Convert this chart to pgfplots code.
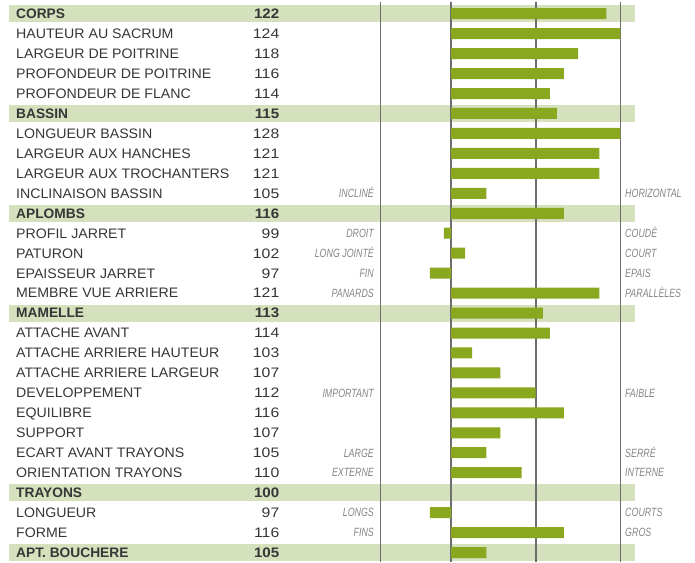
\documentclass[border=0pt]{standalone}
\usepackage{pgfplots}
\pgfplotsset{compat=1.18}
\usepackage{pgfplotstable}
\usepackage{graphicx}
\usepackage{fontspec}
\setmainfont{Liberation Sans}
\definecolor{band}{HTML}{D5E0BD}
\definecolor{barc}{HTML}{8AA720}
\definecolor{txt}{HTML}{363636}
\definecolor{desc}{HTML}{858585}
\definecolor{vline}{HTML}{6E6E6E}

% row, value
\pgfplotstableread{
row val
0 122
1 124
2 118
3 116
4 114
5 115
6 128
7 121
8 121
9 105
10 116
11 99
12 102
13 97
14 121
15 113
16 114
17 103
18 107
19 112
20 116
21 107
22 105
23 110
24 100
25 97
26 116
27 105
}\data

\newcommand{\lab}[3]{% row, label, value
  \node[anchor=base west, font=\fontsize{13.8}{15}\selectfont, text=txt, inner sep=0pt, yshift=-4.9bp] at (axis cs:-61.615,#1) {\scalebox{1.03}[1]{#2}};
  \node[anchor=base east, font=\fontsize{13.8}{15}\selectfont, text=txt, inner sep=0pt, yshift=-4.9bp] at (axis cs:-24.29,#1) {\scalebox{1.15}[1]{#3}};}
\newcommand{\hlab}[3]{% header
  \fill[band] (axis cs:-62.6,#1-0.426) rectangle (axis cs:26.06,#1+0.426);
  \node[anchor=base west, font=\bfseries\fontsize{13.8}{15}\selectfont, text=txt, inner sep=0pt, yshift=-4.9bp] at (axis cs:-61.615,#1) {#2};
  \node[anchor=base east, font=\bfseries\fontsize{13.8}{15}\selectfont, text=txt, inner sep=0pt, yshift=-4.9bp] at (axis cs:-24.29,#1) {\scalebox{1.1}[1]{#3}};}
\newcommand{\desc}[3]{% row, left, right
  \node[anchor=base east, font=\itshape\fontsize{12}{13}\selectfont, text=desc, inner sep=0pt, yshift=-4.3bp] at (axis cs:-10.906,#1) {\scalebox{0.74}[1]{#2}};
  \node[anchor=base west, font=\itshape\fontsize{12}{13}\selectfont, text=desc, inner sep=0pt, yshift=-4.3bp] at (axis cs:24.65,#1) {\scalebox{0.74}[1]{#3}};}

\begin{document}
\begin{tikzpicture}
\begin{axis}[
  width=695bp, height=562bp, scale only axis,
  xmin=-63.881, xmax=34.56,
  ymin=-0.687, ymax=27.476, y dir=reverse,
  axis lines=none, clip=false,
  xtick=\empty, ytick=\empty,
]
\path (rel axis cs:0,0) rectangle (rel axis cs:1,1);
% bands and header labels
\hlab{0}{CORPS}{122}
\hlab{5}{BASSIN}{115}
\hlab{10}{APLOMBS}{116}
\hlab{15}{MAMELLE}{113}
\hlab{24}{TRAYONS}{100}
\hlab{27}{APT. BOUCHERE}{105}
% vertical lines
\pgfplotsinvokeforeach{-10,0,12,24}{
  \draw[vline, line width=1.7bp] (axis cs:#1,-0.59) -- (axis cs:#1,27.476);
}
\addplot[xbar, bar width=11bp, fill=barc, draw=none,
  x filter/.expression={min(x,124)-100}]
  table[x=val, y=row] {\data};
\lab{1}{HAUTEUR AU SACRUM}{124}
\lab{2}{LARGEUR DE POITRINE}{118}
\lab{3}{PROFONDEUR DE POITRINE}{116}
\lab{4}{PROFONDEUR DE FLANC}{114}
\lab{6}{LONGUEUR BASSIN}{128}
\lab{7}{LARGEUR AUX HANCHES}{121}
\lab{8}{LARGEUR AUX TROCHANTERS}{121}
\lab{9}{INCLINAISON BASSIN}{105}
\lab{11}{PROFIL JARRET}{99}
\lab{12}{PATURON}{102}
\lab{13}{EPAISSEUR JARRET}{97}
\lab{14}{MEMBRE VUE ARRIERE}{121}
\lab{16}{ATTACHE AVANT}{114}
\lab{17}{ATTACHE ARRIERE HAUTEUR}{103}
\lab{18}{ATTACHE ARRIERE LARGEUR}{107}
\lab{19}{DEVELOPPEMENT}{112}
\lab{20}{EQUILIBRE}{116}
\lab{21}{SUPPORT}{107}
\lab{22}{ECART AVANT TRAYONS}{105}
\lab{23}{ORIENTATION TRAYONS}{110}
\lab{25}{LONGUEUR}{97}
\lab{26}{FORME}{116}
\desc{9}{INCLINÉ}{HORIZONTAL}
\desc{11}{DROIT}{COUDÉ}
\desc{12}{LONG JOINTÉ}{COURT}
\desc{13}{FIN}{EPAIS}
\desc{14}{PANARDS}{PARALLÈLES}
\desc{19}{IMPORTANT}{FAIBLE}
\desc{22}{LARGE}{SERRÉ}
\desc{23}{EXTERNE}{INTERNE}
\desc{25}{LONGS}{COURTS}
\desc{26}{FINS}{GROS}
\end{axis}
\end{tikzpicture}
\end{document}
